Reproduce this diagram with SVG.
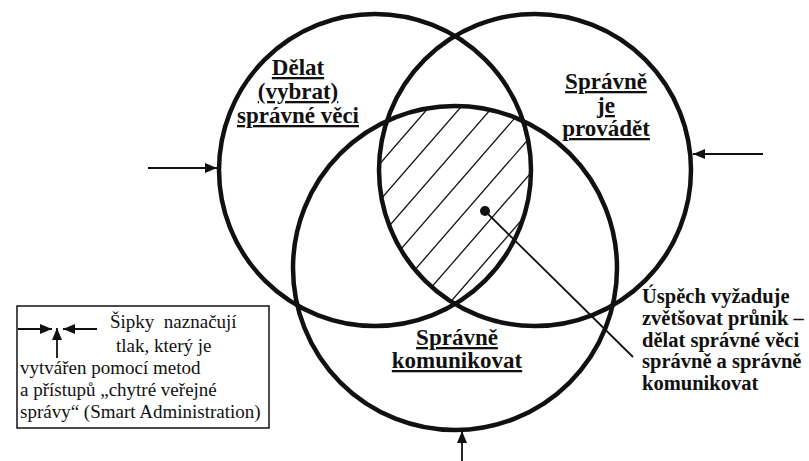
<svg xmlns="http://www.w3.org/2000/svg" width="809" height="461" viewBox="0 0 809 461">
  <defs>
    <style>
      .circle { fill: none; stroke: #111; stroke-width: 4.5; }
      .hatch { stroke: #111; stroke-width: 1.3; }
      .conn { stroke: #111; stroke-width: 1.8; fill: none; }
      text { font-family: 'Liberation Serif', 'DejaVu Serif', serif; fill: #111; }
      .lbl { font-weight: bold; font-size: 23px; text-anchor: middle; text-decoration: underline; text-decoration-thickness: 2px; }
      .note { font-weight: bold; font-size: 20.5px; }
      .legend { font-size: 19px; }
    </style>
    <marker id="ah" viewBox="0 0 12 10" refX="12" refY="5" markerWidth="12" markerHeight="10" markerUnits="userSpaceOnUse" orient="auto">
      <path d="M0,0 L12,5 L0,10 Z" fill="#111"/>
    </marker>
    <clipPath id="cA"><circle cx="375" cy="170" r="156"/></clipPath>
    <clipPath id="cB"><circle cx="535" cy="170" r="156"/></clipPath>
    <clipPath id="cC"><circle cx="455" cy="268" r="162"/></clipPath>
  </defs>
  <rect width="809" height="461" fill="#fff"/>

  <g id="hatching" clip-path="url(#cA)">
    <g clip-path="url(#cB)">
      <g clip-path="url(#cC)" class="hatch">
        <line x1="133.5" y1="447.2" x2="461.5" y2="69.7"/>
        <line x1="151.6" y1="463.0" x2="479.6" y2="85.5"/>
        <line x1="169.7" y1="478.7" x2="497.7" y2="101.2"/>
        <line x1="187.8" y1="494.4" x2="515.8" y2="116.9"/>
        <line x1="206.0" y1="510.2" x2="534.0" y2="132.7"/>
        <line x1="224.1" y1="525.9" x2="552.1" y2="148.4"/>
        <line x1="242.2" y1="541.7" x2="570.2" y2="164.2"/>
        <line x1="260.3" y1="557.4" x2="588.3" y2="179.9"/>
      </g>
    </g>
  </g>

  <g id="circle-delat">
    <circle class="circle" cx="375" cy="170" r="156"/>
    <text class="lbl" x="298" y="75">Dělat</text>
    <text class="lbl" x="298" y="99">(vybrat)</text>
    <text class="lbl" x="298" y="123">správné věci</text>
  </g>

  <g id="circle-provadet">
    <circle class="circle" cx="535" cy="170" r="156"/>
    <text class="lbl" x="606" y="89">Správně</text>
    <text class="lbl" x="606" y="113">je</text>
    <text class="lbl" x="606" y="136">provádět</text>
  </g>

  <g id="circle-komunikovat">
    <circle class="circle" cx="455" cy="268" r="162"/>
    <text class="lbl" x="457" y="345">Správně</text>
    <text class="lbl" x="457" y="368">komunikovat</text>
  </g>

  <g id="note">
    <text class="note" x="642" y="303">Úspěch vyžaduje</text>
    <text class="note" x="642" y="325">zvětšovat průnik –</text>
    <text class="note" x="642" y="346.5">dělat správné věci</text>
    <text class="note" x="642" y="368">správně a správně</text>
    <text class="note" x="642" y="390">komunikovat</text>
  </g>

  <g id="legend">
    <rect x="17" y="306" width="252" height="122" fill="none" stroke="#111" stroke-width="1.5"/>
    <line class="conn" x1="18" y1="329" x2="52" y2="329" marker-end="url(#ah)"/>
    <line class="conn" x1="97" y1="329" x2="63" y2="329" marker-end="url(#ah)"/>
    <line class="conn" x1="57" y1="358" x2="57" y2="328" marker-end="url(#ah)"/>
    <text class="legend" x="110" y="328" xml:space="preserve">Šipky  naznačují</text>
    <text class="legend" x="116" y="352">tlak, který je</text>
    <text class="legend" x="20" y="374">vytvářen pomocí metod</text>
    <text class="legend" x="20" y="396">a přístupů „chytré veřejné</text>
    <text class="legend" x="20" y="418">správy“ (Smart Administration)</text>
  </g>

  <g id="connectors">
    <line class="conn" x1="148" y1="168" x2="217" y2="168" marker-end="url(#ah)"/>
    <line class="conn" x1="763" y1="154" x2="693" y2="154" marker-end="url(#ah)"/>
    <line class="conn" x1="462" y1="461" x2="462" y2="431" marker-end="url(#ah)"/>
    <circle cx="485" cy="211" r="5" fill="#111"/>
    <line class="conn" x1="485" y1="211" x2="633" y2="357"/>
  </g>
</svg>
